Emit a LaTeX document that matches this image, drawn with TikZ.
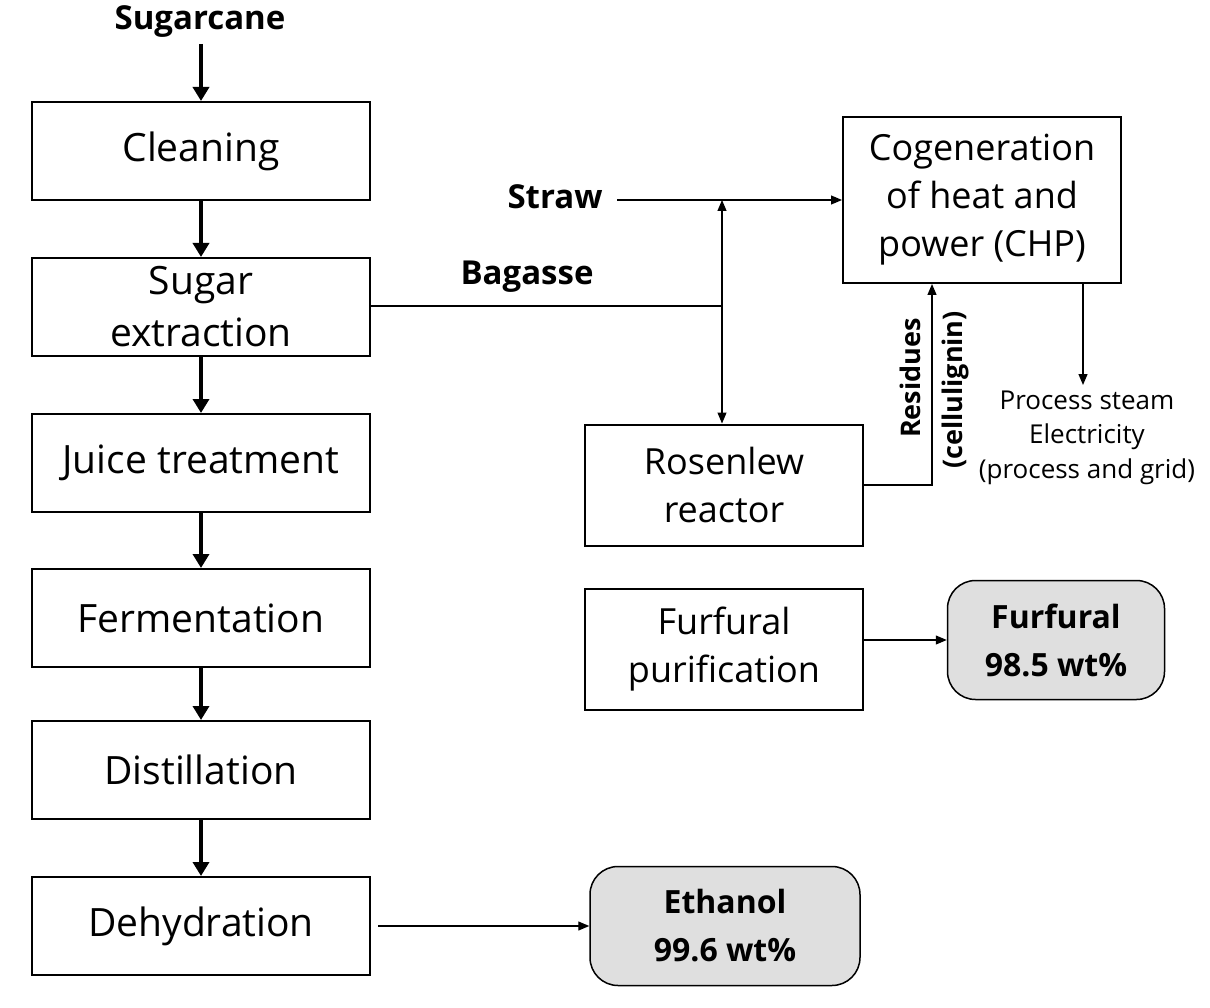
\documentclass[tikz,border=0pt]{standalone}
\usepackage{fontspec}
\setmainfont{Open Sans}
\usetikzlibrary{arrows.meta}
\begin{document}
\begin{tikzpicture}[x=1pt,y=-1pt,
 box/.style={draw,line width=2pt,inner sep=0pt,font=\fontsize{39}{52}\selectfont,align=center},
 prod/.style={draw,line width=1.5pt,fill=gray!25,rounded corners=28pt,font=\bfseries\fontsize{32}{48}\selectfont,align=center,inner sep=0pt},
 thick arr/.style={line width=4.5pt,-{Triangle[length=14pt,width=16pt]}},
 thin arr/.style={line width=1.2pt,-{Triangle[length=11pt,width=9pt]}},
 lbl/.style={font=\bfseries\fontsize{33}{36}\selectfont},
 small/.style={font=\fontsize{26}{30}\selectfont}]
\useasboundingbox (0,0) rectangle (1210,1008);
\node[lbl] (sc) at (200,22) {Sugarcane};
\node[box,minimum width=338pt,minimum height=98pt] (b1) at (201,151) {Cleaning};
\node[box,minimum width=338pt,minimum height=98pt] (b2) at (201,307) {Sugar\\extraction};
\node[box,minimum width=338pt,minimum height=98pt] (b3) at (201,463) {Juice treatment};
\node[box,minimum width=338pt,minimum height=98pt] (b4) at (201,618) {Fermentation};
\node[box,minimum width=338pt,minimum height=98pt] (b5) at (201,770) {Distillation};
\node[box,minimum width=338pt,minimum height=98pt] (b6) at (201,926) {Dehydration};
\draw[thick arr] (201,44) -- (b1.north);
\draw[thick arr] (b1) -- (b2);
\draw[thick arr] (b2) -- (b3);
\draw[thick arr] (b3) -- (b4);
\draw[thick arr] (b4) -- (b5);
\draw[thick arr] (b5) -- (b6);
\node[box,minimum width=278pt,minimum height=166pt,font=\fontsize{36}{48}\selectfont] (chp) at (982,200) {Cogeneration\\of heat and\\power (CHP)};
\node[box,minimum width=278pt,minimum height=121pt,font=\fontsize{36}{48}\selectfont] (ros) at (724,485) {Rosenlew\\reactor};
\node[box,minimum width=278pt,minimum height=121pt,font=\fontsize{36}{48}\selectfont] (fp) at (724,649) {Furfural\\purification};
\node[prod,minimum width=217pt,minimum height=119pt] (ff) at (1056,640) {Furfural\\98.5 wt\%};
\node[prod,minimum width=270pt,minimum height=119pt] (eth) at (725,926) {Ethanol\\99.6 wt\%};
\node[lbl] (straw) at (555,197) {Straw};
\node[lbl] (bag) at (527,277) {Bagasse};
\coordinate (sE) at (617,200);
\coordinate (j) at (722,306);
\coordinate (jt) at (722,200);
\draw[thin arr] (sE) -- (chp.west |- sE);
\draw[line width=2pt] (b2.east |- j) -- (j);
\draw[thin arr] (j) -- (jt);
\draw[thin arr] (j) -- (ros.north -| j);
\coordinate (rc) at (932,485);
\draw[thin arr] (ros.east |- rc) -- (rc) -- (rc |- chp.south);
\node[rotate=90,font=\bfseries\fontsize{27}{30}\selectfont] (res) at (910,378) {Residues};
\node[rotate=90,font=\bfseries\fontsize{27}{30}\selectfont] (cel) at (955,390) {(cellulignin)};
\coordinate (ps) at (1083,385);
\draw[thin arr] (chp.south -| ps) -- (ps);
\node[small] (t1) at (1087,400) {Process steam};
\node[small] (t2) at (1087,437) {Electricity};
\node[small] (t3) at (1087,472) {(process and grid)};
\draw[thin arr] (fp.east |- ff) -- (ff.west);
\draw[thin arr] (378,926) -- (eth.west);
\end{tikzpicture}
\end{document}
